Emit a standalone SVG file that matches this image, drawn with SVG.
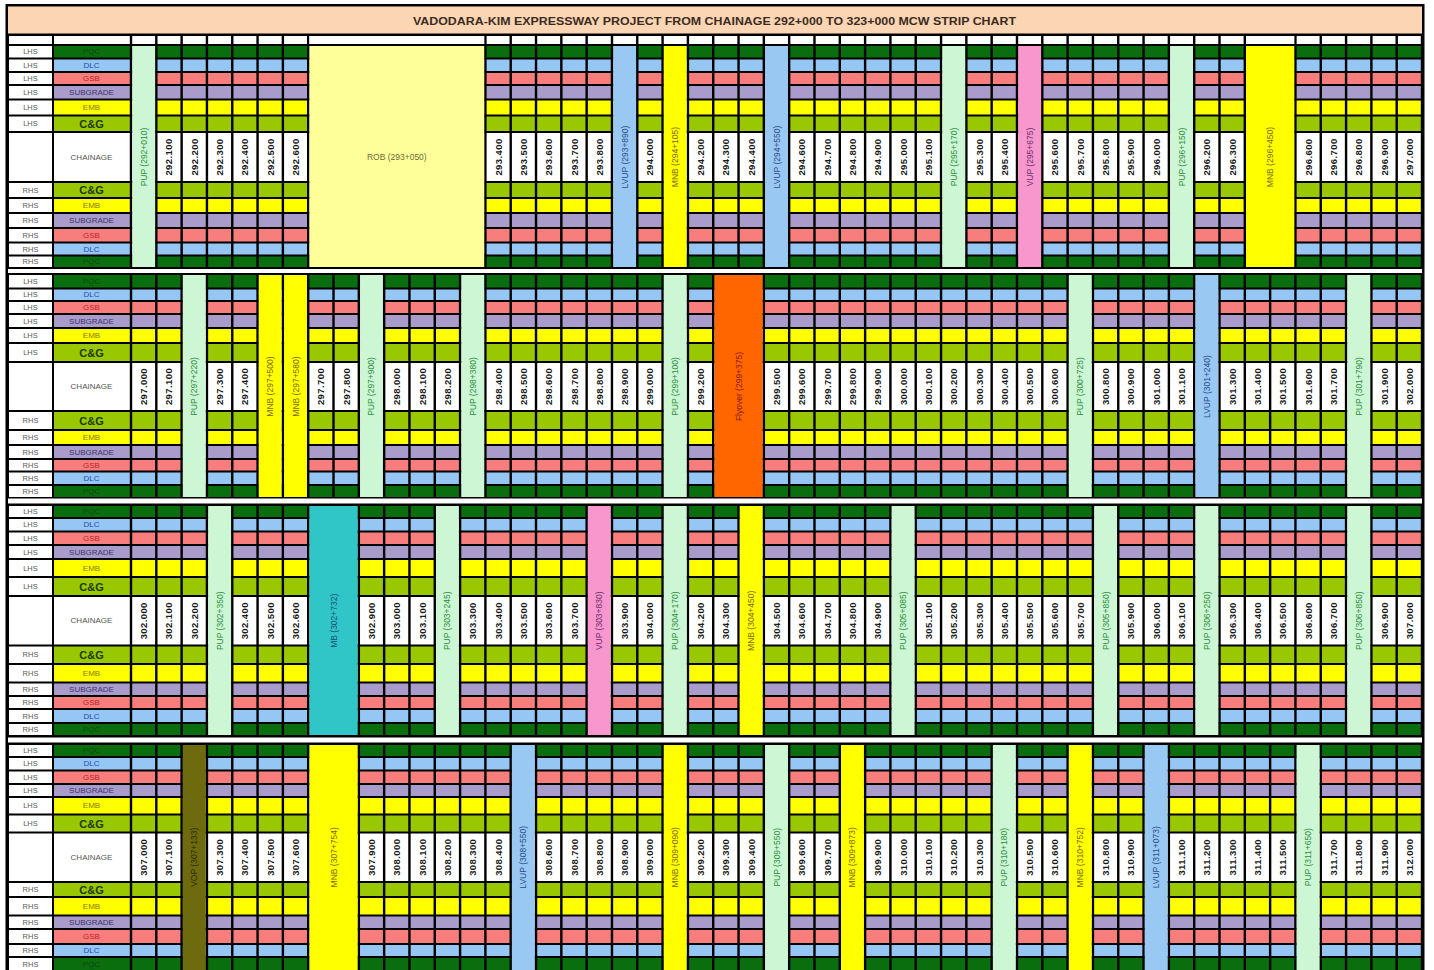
<svg xmlns="http://www.w3.org/2000/svg" width="1434" height="970" viewBox="0 0 1434 970">
<style>
.pqc{fill:#0a6e0e}.dlc{fill:#95c6f4}.gsb{fill:#f87e7e}.sub{fill:#a99cca}.emb{fill:#ffff00}.cg{fill:#99c800}.wh{fill:#ffffff}
.pup{fill:#ccf6d4}.lvup{fill:#99c8f2}.vup{fill:#f797cd}.mnb{fill:#ffff00}.rob{fill:#ffff99}.fly{fill:#ff6600}.mb{fill:#30c6c8}.vop{fill:#6e6a0e}
text{font-family:"Liberation Sans",Arial,sans-serif;text-anchor:middle;dominant-baseline:central}
.lh{font-size:7.5px;fill:#5a5a5a}
.ln{font-size:8px}
.t-pqc{fill:#0d4a0d}.t-dlc{fill:#1f4fb0}.t-gsb{fill:#c0202a}.t-sub{fill:#3b3470}.t-emb{fill:#8b7a00}.t-cg{fill:#1d3a00;font-size:11px;font-weight:bold}.t-ch{fill:#555}
.ch{font-size:9.5px;font-weight:bold;letter-spacing:0.4px;fill:#1a1a1a}
.sl{font-size:8.5px}
.s-pup{fill:#2f8f3f}.s-lvup{fill:#2b4d8c}.s-vup{fill:#6b2f6b}.s-mnb{fill:#7a6a00}.s-rob{fill:#6b6b3a}.s-fly{fill:#8a1a00}.s-mb{fill:#1b4f7a}.s-vop{fill:#2b2b00}
.title{font-size:11px;font-weight:bold;fill:#3b2c1f}
</style>
<rect x="0" y="0" width="1434" height="970" fill="#ffffff"/>
<rect id="frame" x="5.5" y="4" width="1419" height="967" fill="#000"/>
<g id="title">
<rect x="8" y="6.5" width="1414" height="27" fill="#fcd5b4"/>
<text class="title" x="714.5" y="20.5" textLength="603" lengthAdjust="spacingAndGlyphs">VADODARA-KIM EXPRESSWAY PROJECT FROM CHAINAGE 292+000 TO 323+000 MCW STRIP CHART</text>
</g>
<g id="header-row">
<rect class="wh" x="9" y="36" width="43" height="8"/><rect class="wh" x="54" y="36" width="1368" height="8"/>
</g>
<g id="band1-rows">
<rect class="wh" x="9" y="46" width="43" height="11.5"/><rect class="pqc" x="54" y="46" width="1368" height="11.5"/>
<rect class="wh" x="9" y="59.5" width="43" height="11.5"/><rect class="dlc" x="54" y="59.5" width="1368" height="11.5"/>
<rect class="wh" x="9" y="73" width="43" height="11"/><rect class="gsb" x="54" y="73" width="1368" height="11"/>
<rect class="wh" x="9" y="86" width="43" height="12.5"/><rect class="sub" x="54" y="86" width="1368" height="12.5"/>
<rect class="wh" x="9" y="100.5" width="43" height="14"/><rect class="emb" x="54" y="100.5" width="1368" height="14"/>
<rect class="wh" x="9" y="116.5" width="43" height="14.5"/><rect class="cg" x="54" y="116.5" width="1368" height="14.5"/>
<rect class="wh" x="9" y="133" width="43" height="48"/><rect class="wh" x="54" y="133" width="1368" height="48"/>
<rect class="wh" x="9" y="183" width="43" height="14"/><rect class="cg" x="54" y="183" width="1368" height="14"/>
<rect class="wh" x="9" y="199" width="43" height="13"/><rect class="emb" x="54" y="199" width="1368" height="13"/>
<rect class="wh" x="9" y="214" width="43" height="13"/><rect class="sub" x="54" y="214" width="1368" height="13"/>
<rect class="wh" x="9" y="229" width="43" height="12.5"/><rect class="gsb" x="54" y="229" width="1368" height="12.5"/>
<rect class="wh" x="9" y="243.5" width="43" height="11"/><rect class="dlc" x="54" y="243.5" width="1368" height="11"/>
<rect class="wh" x="9" y="256.5" width="43" height="10.5"/><rect class="pqc" x="54" y="256.5" width="1368" height="10.5"/>
<text class="lh" x="30.5" y="51.75">LHS</text><text class="ln t-pqc" x="91.5" y="51.75">PQC</text>
<text class="lh" x="30.5" y="65.25">LHS</text><text class="ln t-dlc" x="91.5" y="65.25">DLC</text>
<text class="lh" x="30.5" y="78.5">LHS</text><text class="ln t-gsb" x="91.5" y="78.5">GSB</text>
<text class="lh" x="30.5" y="92.25">LHS</text><text class="ln t-sub" x="91.5" y="92.25">SUBGRADE</text>
<text class="lh" x="30.5" y="107.5">LHS</text><text class="ln t-emb" x="91.5" y="107.5">EMB</text>
<text class="lh" x="30.5" y="123.75">LHS</text><text class="t-cg" x="91.5" y="123.75">C&amp;G</text>
<text class="ln t-ch" x="91.5" y="157">CHAINAGE</text>
<text class="lh" x="30.5" y="190">RHS</text><text class="t-cg" x="91.5" y="190">C&amp;G</text>
<text class="lh" x="30.5" y="205.5">RHS</text><text class="ln t-emb" x="91.5" y="205.5">EMB</text>
<text class="lh" x="30.5" y="220.5">RHS</text><text class="ln t-sub" x="91.5" y="220.5">SUBGRADE</text>
<text class="lh" x="30.5" y="235.25">RHS</text><text class="ln t-gsb" x="91.5" y="235.25">GSB</text>
<text class="lh" x="30.5" y="249">RHS</text><text class="ln t-dlc" x="91.5" y="249">DLC</text>
<text class="lh" x="30.5" y="261.75">RHS</text><text class="ln t-pqc" x="91.5" y="261.75">PQC</text>
</g>
<g id="band2-rows">
<rect class="wh" x="9" y="275" width="43" height="12.5"/><rect class="pqc" x="54" y="275" width="1368" height="12.5"/>
<rect class="wh" x="9" y="289.5" width="43" height="10.5"/><rect class="dlc" x="54" y="289.5" width="1368" height="10.5"/>
<rect class="wh" x="9" y="302" width="43" height="11"/><rect class="gsb" x="54" y="302" width="1368" height="11"/>
<rect class="wh" x="9" y="315" width="43" height="12"/><rect class="sub" x="54" y="315" width="1368" height="12"/>
<rect class="wh" x="9" y="329" width="43" height="13"/><rect class="emb" x="54" y="329" width="1368" height="13"/>
<rect class="wh" x="9" y="344" width="43" height="17"/><rect class="cg" x="54" y="344" width="1368" height="17"/>
<rect class="wh" x="9" y="363" width="43" height="47"/><rect class="wh" x="54" y="363" width="1368" height="47"/>
<rect class="wh" x="9" y="412" width="43" height="17"/><rect class="cg" x="54" y="412" width="1368" height="17"/>
<rect class="wh" x="9" y="431" width="43" height="13"/><rect class="emb" x="54" y="431" width="1368" height="13"/>
<rect class="wh" x="9" y="446" width="43" height="12"/><rect class="sub" x="54" y="446" width="1368" height="12"/>
<rect class="wh" x="9" y="460" width="43" height="10.5"/><rect class="gsb" x="54" y="460" width="1368" height="10.5"/>
<rect class="wh" x="9" y="472.5" width="43" height="11.5"/><rect class="dlc" x="54" y="472.5" width="1368" height="11.5"/>
<rect class="wh" x="9" y="486" width="43" height="11"/><rect class="pqc" x="54" y="486" width="1368" height="11"/>
<text class="lh" x="30.5" y="281.25">LHS</text><text class="ln t-pqc" x="91.5" y="281.25">PQC</text>
<text class="lh" x="30.5" y="294.75">LHS</text><text class="ln t-dlc" x="91.5" y="294.75">DLC</text>
<text class="lh" x="30.5" y="307.5">LHS</text><text class="ln t-gsb" x="91.5" y="307.5">GSB</text>
<text class="lh" x="30.5" y="321">LHS</text><text class="ln t-sub" x="91.5" y="321">SUBGRADE</text>
<text class="lh" x="30.5" y="335.5">LHS</text><text class="ln t-emb" x="91.5" y="335.5">EMB</text>
<text class="lh" x="30.5" y="352.5">LHS</text><text class="t-cg" x="91.5" y="352.5">C&amp;G</text>
<text class="ln t-ch" x="91.5" y="386.5">CHAINAGE</text>
<text class="lh" x="30.5" y="420.5">RHS</text><text class="t-cg" x="91.5" y="420.5">C&amp;G</text>
<text class="lh" x="30.5" y="437.5">RHS</text><text class="ln t-emb" x="91.5" y="437.5">EMB</text>
<text class="lh" x="30.5" y="452">RHS</text><text class="ln t-sub" x="91.5" y="452">SUBGRADE</text>
<text class="lh" x="30.5" y="465.25">RHS</text><text class="ln t-gsb" x="91.5" y="465.25">GSB</text>
<text class="lh" x="30.5" y="478.25">RHS</text><text class="ln t-dlc" x="91.5" y="478.25">DLC</text>
<text class="lh" x="30.5" y="491.5">RHS</text><text class="ln t-pqc" x="91.5" y="491.5">PQC</text>
</g>
<g id="band3-rows">
<rect class="wh" x="9" y="506" width="43" height="11"/><rect class="pqc" x="54" y="506" width="1368" height="11"/>
<rect class="wh" x="9" y="519" width="43" height="11.5"/><rect class="dlc" x="54" y="519" width="1368" height="11.5"/>
<rect class="wh" x="9" y="532.5" width="43" height="11.5"/><rect class="gsb" x="54" y="532.5" width="1368" height="11.5"/>
<rect class="wh" x="9" y="546" width="43" height="12"/><rect class="sub" x="54" y="546" width="1368" height="12"/>
<rect class="wh" x="9" y="560" width="43" height="16"/><rect class="emb" x="54" y="560" width="1368" height="16"/>
<rect class="wh" x="9" y="578" width="43" height="17"/><rect class="cg" x="54" y="578" width="1368" height="17"/>
<rect class="wh" x="9" y="597" width="43" height="47.5"/><rect class="wh" x="54" y="597" width="1368" height="47.5"/>
<rect class="wh" x="9" y="646.5" width="43" height="16.5"/><rect class="cg" x="54" y="646.5" width="1368" height="16.5"/>
<rect class="wh" x="9" y="665" width="43" height="16.5"/><rect class="emb" x="54" y="665" width="1368" height="16.5"/>
<rect class="wh" x="9" y="683.5" width="43" height="11.5"/><rect class="sub" x="54" y="683.5" width="1368" height="11.5"/>
<rect class="wh" x="9" y="697" width="43" height="11"/><rect class="gsb" x="54" y="697" width="1368" height="11"/>
<rect class="wh" x="9" y="710" width="43" height="12"/><rect class="dlc" x="54" y="710" width="1368" height="12"/>
<rect class="wh" x="9" y="724" width="43" height="11"/><rect class="pqc" x="54" y="724" width="1368" height="11"/>
<text class="lh" x="30.5" y="511.5">LHS</text><text class="ln t-pqc" x="91.5" y="511.5">PQC</text>
<text class="lh" x="30.5" y="524.75">LHS</text><text class="ln t-dlc" x="91.5" y="524.75">DLC</text>
<text class="lh" x="30.5" y="538.25">LHS</text><text class="ln t-gsb" x="91.5" y="538.25">GSB</text>
<text class="lh" x="30.5" y="552">LHS</text><text class="ln t-sub" x="91.5" y="552">SUBGRADE</text>
<text class="lh" x="30.5" y="568">LHS</text><text class="ln t-emb" x="91.5" y="568">EMB</text>
<text class="lh" x="30.5" y="586.5">LHS</text><text class="t-cg" x="91.5" y="586.5">C&amp;G</text>
<text class="ln t-ch" x="91.5" y="620.75">CHAINAGE</text>
<text class="lh" x="30.5" y="654.75">RHS</text><text class="t-cg" x="91.5" y="654.75">C&amp;G</text>
<text class="lh" x="30.5" y="673.25">RHS</text><text class="ln t-emb" x="91.5" y="673.25">EMB</text>
<text class="lh" x="30.5" y="689.25">RHS</text><text class="ln t-sub" x="91.5" y="689.25">SUBGRADE</text>
<text class="lh" x="30.5" y="702.5">RHS</text><text class="ln t-gsb" x="91.5" y="702.5">GSB</text>
<text class="lh" x="30.5" y="716">RHS</text><text class="ln t-dlc" x="91.5" y="716">DLC</text>
<text class="lh" x="30.5" y="729.5">RHS</text><text class="ln t-pqc" x="91.5" y="729.5">PQC</text>
</g>
<g id="band4-rows">
<rect class="wh" x="9" y="745" width="43" height="11"/><rect class="pqc" x="54" y="745" width="1368" height="11"/>
<rect class="wh" x="9" y="758" width="43" height="11.5"/><rect class="dlc" x="54" y="758" width="1368" height="11.5"/>
<rect class="wh" x="9" y="771.5" width="43" height="11.5"/><rect class="gsb" x="54" y="771.5" width="1368" height="11.5"/>
<rect class="wh" x="9" y="785" width="43" height="11"/><rect class="sub" x="54" y="785" width="1368" height="11"/>
<rect class="wh" x="9" y="798" width="43" height="15.5"/><rect class="emb" x="54" y="798" width="1368" height="15.5"/>
<rect class="wh" x="9" y="815.5" width="43" height="16"/><rect class="cg" x="54" y="815.5" width="1368" height="16"/>
<rect class="wh" x="9" y="833.5" width="43" height="47.5"/><rect class="wh" x="54" y="833.5" width="1368" height="47.5"/>
<rect class="wh" x="9" y="883" width="43" height="13"/><rect class="cg" x="54" y="883" width="1368" height="13"/>
<rect class="wh" x="9" y="898" width="43" height="16.5"/><rect class="emb" x="54" y="898" width="1368" height="16.5"/>
<rect class="wh" x="9" y="916.5" width="43" height="11.5"/><rect class="sub" x="54" y="916.5" width="1368" height="11.5"/>
<rect class="wh" x="9" y="930" width="43" height="13"/><rect class="gsb" x="54" y="930" width="1368" height="13"/>
<rect class="wh" x="9" y="945" width="43" height="11"/><rect class="dlc" x="54" y="945" width="1368" height="11"/>
<rect class="wh" x="9" y="958" width="43" height="12"/><rect class="pqc" x="54" y="958" width="1368" height="12"/>
<text class="lh" x="30.5" y="750.5">LHS</text><text class="ln t-pqc" x="91.5" y="750.5">PQC</text>
<text class="lh" x="30.5" y="763.75">LHS</text><text class="ln t-dlc" x="91.5" y="763.75">DLC</text>
<text class="lh" x="30.5" y="777.25">LHS</text><text class="ln t-gsb" x="91.5" y="777.25">GSB</text>
<text class="lh" x="30.5" y="790.5">LHS</text><text class="ln t-sub" x="91.5" y="790.5">SUBGRADE</text>
<text class="lh" x="30.5" y="805.75">LHS</text><text class="ln t-emb" x="91.5" y="805.75">EMB</text>
<text class="lh" x="30.5" y="823.5">LHS</text><text class="t-cg" x="91.5" y="823.5">C&amp;G</text>
<text class="ln t-ch" x="91.5" y="857.25">CHAINAGE</text>
<text class="lh" x="30.5" y="889.5">RHS</text><text class="t-cg" x="91.5" y="889.5">C&amp;G</text>
<text class="lh" x="30.5" y="906.25">RHS</text><text class="ln t-emb" x="91.5" y="906.25">EMB</text>
<text class="lh" x="30.5" y="922.25">RHS</text><text class="ln t-sub" x="91.5" y="922.25">SUBGRADE</text>
<text class="lh" x="30.5" y="936.5">RHS</text><text class="ln t-gsb" x="91.5" y="936.5">GSB</text>
<text class="lh" x="30.5" y="950.5">RHS</text><text class="ln t-dlc" x="91.5" y="950.5">DLC</text>
<text class="lh" x="30.5" y="964">RHS</text><text class="ln t-pqc" x="91.5" y="964">PQC</text>
</g>
<g id="grid-lines">
<path stroke="#000" stroke-width="2.4" fill="none" d="M131 35V970M156.31 35V970M181.63 35V970M206.94 35V970M232.26 35V970M257.57 35V970M282.88 35V970M308.2 35V970M333.51 35V970M358.83 35V970M384.14 35V970M409.45 35V970M434.77 35V970M460.08 35V970M485.4 35V970M510.71 35V970M536.02 35V970M561.34 35V970M586.65 35V970M611.97 35V970M637.28 35V970M662.59 35V970M687.91 35V970M713.22 35V970M738.54 35V970M763.85 35V970M789.16 35V970M814.48 35V970M839.79 35V970M865.11 35V970M890.42 35V970M915.73 35V970M941.05 35V970M966.36 35V970M991.68 35V970M1016.99 35V970M1042.3 35V970M1067.62 35V970M1092.93 35V970M1118.25 35V970M1143.56 35V970M1168.87 35V970M1194.19 35V970M1219.5 35V970M1244.82 35V970M1270.13 35V970M1295.44 35V970M1320.76 35V970M1346.07 35V970M1371.39 35V970M1396.7 35V970M1422 35V970"/>
<rect class="wh" x="309.4" y="36" width="174.8" height="8"/>
<rect class="wh" x="1246" y="36" width="48.2" height="8"/>
<rect class="wh" x="8" y="269" width="1414" height="4"/>
<rect class="wh" x="8" y="498.5" width="1414" height="5"/>
<rect class="wh" x="8" y="737.5" width="1414" height="5"/>
</g>
<g id="band1-structures">
<g id="pup-292-010"><rect class="pup" x="132.2" y="46" width="22.91" height="221"/><text class="sl s-pup" x="143.66" y="157" transform="rotate(-90 143.66 157)">PUP (292+010)</text></g>
<g id="rob-293-050"><rect class="rob" x="309.4" y="46" width="174.8" height="221"/><text class="sl s-rob" x="396.8" y="157">ROB (293+050)</text></g>
<g id="lvup-293-890"><rect class="lvup" x="613.17" y="46" width="22.91" height="221"/><text class="sl s-lvup" x="624.63" y="157" transform="rotate(-90 624.63 157)">LVUP (293+890)</text></g>
<g id="mnb-294-105"><rect class="mnb" x="663.79" y="46" width="22.91" height="221"/><text class="sl s-mnb" x="675.25" y="157" transform="rotate(-90 675.25 157)">MNB (294+105)</text></g>
<g id="lvup-294-550"><rect class="lvup" x="765.05" y="46" width="22.91" height="221"/><text class="sl s-lvup" x="776.51" y="157" transform="rotate(-90 776.51 157)">LVUP (294+550)</text></g>
<g id="pup-295-170"><rect class="pup" x="942.25" y="46" width="22.91" height="221"/><text class="sl s-pup" x="953.71" y="157" transform="rotate(-90 953.71 157)">PUP (295+170)</text></g>
<g id="vup-295-675"><rect class="vup" x="1018.19" y="46" width="22.91" height="221"/><text class="sl s-vup" x="1029.65" y="157" transform="rotate(-90 1029.65 157)">VUP (295+675)</text></g>
<g id="pup-296-150"><rect class="pup" x="1170.07" y="46" width="22.91" height="221"/><text class="sl s-pup" x="1181.53" y="157" transform="rotate(-90 1181.53 157)">PUP (296+150)</text></g>
<g id="mnb-296-450"><rect class="mnb" x="1246.02" y="46" width="48.23" height="221"/><text class="sl s-mnb" x="1270.13" y="157" transform="rotate(-90 1270.13 157)">MNB (296+450)</text></g>
</g>
<g id="band2-structures">
<g id="pup-297-220"><rect class="pup" x="182.83" y="275" width="22.91" height="222"/><text class="sl s-pup" x="194.29" y="386.5" transform="rotate(-90 194.29 386.5)">PUP (297+220)</text></g>
<g id="mnb-297-500"><rect class="mnb" x="258.77" y="275" width="22.91" height="222"/><text class="sl s-mnb" x="270.23" y="386.5" transform="rotate(-90 270.23 386.5)">MNB (297+500)</text></g>
<g id="mnb-297-580"><rect class="mnb" x="284.08" y="275" width="22.91" height="222"/><text class="sl s-mnb" x="295.54" y="386.5" transform="rotate(-90 295.54 386.5)">MNB (297+580)</text></g>
<g id="pup-297-900"><rect class="pup" x="360.03" y="275" width="22.91" height="222"/><text class="sl s-pup" x="371.49" y="386.5" transform="rotate(-90 371.49 386.5)">PUP (297+900)</text></g>
<g id="pup-298-380"><rect class="pup" x="461.28" y="275" width="22.91" height="222"/><text class="sl s-pup" x="472.74" y="386.5" transform="rotate(-90 472.74 386.5)">PUP (298+380)</text></g>
<g id="pup-299-100"><rect class="pup" x="663.79" y="275" width="22.91" height="222"/><text class="sl s-pup" x="675.25" y="386.5" transform="rotate(-90 675.25 386.5)">PUP (299+100)</text></g>
<g id="flyover-299-375"><rect class="fly" x="714.42" y="275" width="48.23" height="222"/><text class="sl s-fly" x="738.54" y="386.5" transform="rotate(-90 738.54 386.5)">Flyover (299+375)</text></g>
<g id="pup-300-725"><rect class="pup" x="1068.82" y="275" width="22.91" height="222"/><text class="sl s-pup" x="1080.28" y="386.5" transform="rotate(-90 1080.28 386.5)">PUP (300+725)</text></g>
<g id="lvup-301-240"><rect class="lvup" x="1195.39" y="275" width="22.91" height="222"/><text class="sl s-lvup" x="1206.85" y="386.5" transform="rotate(-90 1206.85 386.5)">LVUP (301+240)</text></g>
<g id="pup-301-790"><rect class="pup" x="1347.27" y="275" width="22.91" height="222"/><text class="sl s-pup" x="1358.73" y="386.5" transform="rotate(-90 1358.73 386.5)">PUP (301+790)</text></g>
</g>
<g id="band3-structures">
<g id="pup-302-350"><rect class="pup" x="208.14" y="506" width="22.91" height="229"/><text class="sl s-pup" x="219.6" y="620.75" transform="rotate(-90 219.6 620.75)">PUP (302+350)</text></g>
<g id="mb-302-732"><rect class="mb" x="309.4" y="506" width="48.23" height="229"/><text class="sl s-mb" x="333.51" y="620.75" transform="rotate(-90 333.51 620.75)">MB (302+732)</text></g>
<g id="pup-303-245"><rect class="pup" x="435.97" y="506" width="22.91" height="229"/><text class="sl s-pup" x="447.43" y="620.75" transform="rotate(-90 447.43 620.75)">PUP (303+245)</text></g>
<g id="vup-303-830"><rect class="vup" x="587.85" y="506" width="22.91" height="229"/><text class="sl s-vup" x="599.31" y="620.75" transform="rotate(-90 599.31 620.75)">VUP (303+830)</text></g>
<g id="pup-304-170"><rect class="pup" x="663.79" y="506" width="22.91" height="229"/><text class="sl s-pup" x="675.25" y="620.75" transform="rotate(-90 675.25 620.75)">PUP (304+170)</text></g>
<g id="mnb-304-450"><rect class="mnb" x="739.74" y="506" width="22.91" height="229"/><text class="sl s-mnb" x="751.2" y="620.75" transform="rotate(-90 751.2 620.75)">MNB (304+450)</text></g>
<g id="pup-305-085"><rect class="pup" x="891.62" y="506" width="22.91" height="229"/><text class="sl s-pup" x="903.08" y="620.75" transform="rotate(-90 903.08 620.75)">PUP (305+085)</text></g>
<g id="pup-305-850"><rect class="pup" x="1094.13" y="506" width="22.91" height="229"/><text class="sl s-pup" x="1105.59" y="620.75" transform="rotate(-90 1105.59 620.75)">PUP (305+850)</text></g>
<g id="pup-306-250"><rect class="pup" x="1195.39" y="506" width="22.91" height="229"/><text class="sl s-pup" x="1206.85" y="620.75" transform="rotate(-90 1206.85 620.75)">PUP (306+250)</text></g>
<g id="pup-306-850"><rect class="pup" x="1347.27" y="506" width="22.91" height="229"/><text class="sl s-pup" x="1358.73" y="620.75" transform="rotate(-90 1358.73 620.75)">PUP (306+850)</text></g>
</g>
<g id="band4-structures">
<g id="vop-307-133"><rect class="vop" x="182.83" y="745" width="22.91" height="225"/><text class="sl s-vop" x="194.29" y="857.25" transform="rotate(-90 194.29 857.25)">VOP (307+133)</text></g>
<g id="mnb-307-754"><rect class="mnb" x="309.4" y="745" width="48.23" height="225"/><text class="sl s-mnb" x="333.51" y="857.25" transform="rotate(-90 333.51 857.25)">MNB (307+754)</text></g>
<g id="lvup-308-550"><rect class="lvup" x="511.91" y="745" width="22.91" height="225"/><text class="sl s-lvup" x="523.37" y="857.25" transform="rotate(-90 523.37 857.25)">LVUP (308+550)</text></g>
<g id="mnb-309-090"><rect class="mnb" x="663.79" y="745" width="22.91" height="225"/><text class="sl s-mnb" x="675.25" y="857.25" transform="rotate(-90 675.25 857.25)">MNB (309+090)</text></g>
<g id="pup-309-550"><rect class="pup" x="765.05" y="745" width="22.91" height="225"/><text class="sl s-pup" x="776.51" y="857.25" transform="rotate(-90 776.51 857.25)">PUP (309+550)</text></g>
<g id="mnb-309-873"><rect class="mnb" x="840.99" y="745" width="22.91" height="225"/><text class="sl s-mnb" x="852.45" y="857.25" transform="rotate(-90 852.45 857.25)">MNB (309+873)</text></g>
<g id="pup-310-180"><rect class="pup" x="992.88" y="745" width="22.91" height="225"/><text class="sl s-pup" x="1004.34" y="857.25" transform="rotate(-90 1004.34 857.25)">PUP (310+180)</text></g>
<g id="mnb-310-752"><rect class="mnb" x="1068.82" y="745" width="22.91" height="225"/><text class="sl s-mnb" x="1080.28" y="857.25" transform="rotate(-90 1080.28 857.25)">MNB (310+752)</text></g>
<g id="lvup-311-073"><rect class="lvup" x="1144.76" y="745" width="22.91" height="225"/><text class="sl s-lvup" x="1156.22" y="857.25" transform="rotate(-90 1156.22 857.25)">LVUP (311+073)</text></g>
<g id="pup-311-650"><rect class="pup" x="1296.64" y="745" width="22.91" height="225"/><text class="sl s-pup" x="1308.1" y="857.25" transform="rotate(-90 1308.1 857.25)">PUP (311+650)</text></g>
</g>
<g id="band1-chainage">
<text class="ch" x="168.97" y="157" transform="rotate(-90 168.97 157)">292.100</text>
<text class="ch" x="194.29" y="157" transform="rotate(-90 194.29 157)">292.200</text>
<text class="ch" x="219.6" y="157" transform="rotate(-90 219.6 157)">292.300</text>
<text class="ch" x="244.92" y="157" transform="rotate(-90 244.92 157)">292.400</text>
<text class="ch" x="270.23" y="157" transform="rotate(-90 270.23 157)">292.500</text>
<text class="ch" x="295.54" y="157" transform="rotate(-90 295.54 157)">292.600</text>
<text class="ch" x="498.06" y="157" transform="rotate(-90 498.06 157)">293.400</text>
<text class="ch" x="523.37" y="157" transform="rotate(-90 523.37 157)">293.500</text>
<text class="ch" x="548.68" y="157" transform="rotate(-90 548.68 157)">293.600</text>
<text class="ch" x="574" y="157" transform="rotate(-90 574 157)">293.700</text>
<text class="ch" x="599.31" y="157" transform="rotate(-90 599.31 157)">293.800</text>
<text class="ch" x="649.94" y="157" transform="rotate(-90 649.94 157)">294.000</text>
<text class="ch" x="700.57" y="157" transform="rotate(-90 700.57 157)">294.200</text>
<text class="ch" x="725.88" y="157" transform="rotate(-90 725.88 157)">294.300</text>
<text class="ch" x="751.2" y="157" transform="rotate(-90 751.2 157)">294.400</text>
<text class="ch" x="801.82" y="157" transform="rotate(-90 801.82 157)">294.600</text>
<text class="ch" x="827.14" y="157" transform="rotate(-90 827.14 157)">294.700</text>
<text class="ch" x="852.45" y="157" transform="rotate(-90 852.45 157)">294.800</text>
<text class="ch" x="877.77" y="157" transform="rotate(-90 877.77 157)">294.900</text>
<text class="ch" x="903.08" y="157" transform="rotate(-90 903.08 157)">295.000</text>
<text class="ch" x="928.39" y="157" transform="rotate(-90 928.39 157)">295.100</text>
<text class="ch" x="979.02" y="157" transform="rotate(-90 979.02 157)">295.300</text>
<text class="ch" x="1004.34" y="157" transform="rotate(-90 1004.34 157)">295.400</text>
<text class="ch" x="1054.96" y="157" transform="rotate(-90 1054.96 157)">295.600</text>
<text class="ch" x="1080.28" y="157" transform="rotate(-90 1080.28 157)">295.700</text>
<text class="ch" x="1105.59" y="157" transform="rotate(-90 1105.59 157)">295.800</text>
<text class="ch" x="1130.91" y="157" transform="rotate(-90 1130.91 157)">295.900</text>
<text class="ch" x="1156.22" y="157" transform="rotate(-90 1156.22 157)">296.000</text>
<text class="ch" x="1206.85" y="157" transform="rotate(-90 1206.85 157)">296.200</text>
<text class="ch" x="1232.16" y="157" transform="rotate(-90 1232.16 157)">296.300</text>
<text class="ch" x="1308.1" y="157" transform="rotate(-90 1308.1 157)">296.600</text>
<text class="ch" x="1333.42" y="157" transform="rotate(-90 1333.42 157)">296.700</text>
<text class="ch" x="1358.73" y="157" transform="rotate(-90 1358.73 157)">296.800</text>
<text class="ch" x="1384.05" y="157" transform="rotate(-90 1384.05 157)">296.900</text>
<text class="ch" x="1409.36" y="157" transform="rotate(-90 1409.36 157)">297.000</text>
</g>
<g id="band2-chainage">
<text class="ch" x="143.66" y="386.5" transform="rotate(-90 143.66 386.5)">297.000</text>
<text class="ch" x="168.97" y="386.5" transform="rotate(-90 168.97 386.5)">297.100</text>
<text class="ch" x="219.6" y="386.5" transform="rotate(-90 219.6 386.5)">297.300</text>
<text class="ch" x="244.92" y="386.5" transform="rotate(-90 244.92 386.5)">297.400</text>
<text class="ch" x="320.86" y="386.5" transform="rotate(-90 320.86 386.5)">297.700</text>
<text class="ch" x="346.17" y="386.5" transform="rotate(-90 346.17 386.5)">297.800</text>
<text class="ch" x="396.8" y="386.5" transform="rotate(-90 396.8 386.5)">298.000</text>
<text class="ch" x="422.11" y="386.5" transform="rotate(-90 422.11 386.5)">298.100</text>
<text class="ch" x="447.43" y="386.5" transform="rotate(-90 447.43 386.5)">298.200</text>
<text class="ch" x="498.06" y="386.5" transform="rotate(-90 498.06 386.5)">298.400</text>
<text class="ch" x="523.37" y="386.5" transform="rotate(-90 523.37 386.5)">298.500</text>
<text class="ch" x="548.68" y="386.5" transform="rotate(-90 548.68 386.5)">298.600</text>
<text class="ch" x="574" y="386.5" transform="rotate(-90 574 386.5)">298.700</text>
<text class="ch" x="599.31" y="386.5" transform="rotate(-90 599.31 386.5)">298.800</text>
<text class="ch" x="624.63" y="386.5" transform="rotate(-90 624.63 386.5)">298.900</text>
<text class="ch" x="649.94" y="386.5" transform="rotate(-90 649.94 386.5)">299.000</text>
<text class="ch" x="700.57" y="386.5" transform="rotate(-90 700.57 386.5)">299.200</text>
<text class="ch" x="776.51" y="386.5" transform="rotate(-90 776.51 386.5)">299.500</text>
<text class="ch" x="801.82" y="386.5" transform="rotate(-90 801.82 386.5)">299.600</text>
<text class="ch" x="827.14" y="386.5" transform="rotate(-90 827.14 386.5)">299.700</text>
<text class="ch" x="852.45" y="386.5" transform="rotate(-90 852.45 386.5)">299.800</text>
<text class="ch" x="877.77" y="386.5" transform="rotate(-90 877.77 386.5)">299.900</text>
<text class="ch" x="903.08" y="386.5" transform="rotate(-90 903.08 386.5)">300.000</text>
<text class="ch" x="928.39" y="386.5" transform="rotate(-90 928.39 386.5)">300.100</text>
<text class="ch" x="953.71" y="386.5" transform="rotate(-90 953.71 386.5)">300.200</text>
<text class="ch" x="979.02" y="386.5" transform="rotate(-90 979.02 386.5)">300.300</text>
<text class="ch" x="1004.34" y="386.5" transform="rotate(-90 1004.34 386.5)">300.400</text>
<text class="ch" x="1029.65" y="386.5" transform="rotate(-90 1029.65 386.5)">300.500</text>
<text class="ch" x="1054.96" y="386.5" transform="rotate(-90 1054.96 386.5)">300.600</text>
<text class="ch" x="1105.59" y="386.5" transform="rotate(-90 1105.59 386.5)">300.800</text>
<text class="ch" x="1130.91" y="386.5" transform="rotate(-90 1130.91 386.5)">300.900</text>
<text class="ch" x="1156.22" y="386.5" transform="rotate(-90 1156.22 386.5)">301.000</text>
<text class="ch" x="1181.53" y="386.5" transform="rotate(-90 1181.53 386.5)">301.100</text>
<text class="ch" x="1232.16" y="386.5" transform="rotate(-90 1232.16 386.5)">301.300</text>
<text class="ch" x="1257.48" y="386.5" transform="rotate(-90 1257.48 386.5)">301.400</text>
<text class="ch" x="1282.79" y="386.5" transform="rotate(-90 1282.79 386.5)">301.500</text>
<text class="ch" x="1308.1" y="386.5" transform="rotate(-90 1308.1 386.5)">301.600</text>
<text class="ch" x="1333.42" y="386.5" transform="rotate(-90 1333.42 386.5)">301.700</text>
<text class="ch" x="1384.05" y="386.5" transform="rotate(-90 1384.05 386.5)">301.900</text>
<text class="ch" x="1409.36" y="386.5" transform="rotate(-90 1409.36 386.5)">302.000</text>
</g>
<g id="band3-chainage">
<text class="ch" x="143.66" y="620.75" transform="rotate(-90 143.66 620.75)">302.000</text>
<text class="ch" x="168.97" y="620.75" transform="rotate(-90 168.97 620.75)">302.100</text>
<text class="ch" x="194.29" y="620.75" transform="rotate(-90 194.29 620.75)">302.200</text>
<text class="ch" x="244.92" y="620.75" transform="rotate(-90 244.92 620.75)">302.400</text>
<text class="ch" x="270.23" y="620.75" transform="rotate(-90 270.23 620.75)">302.500</text>
<text class="ch" x="295.54" y="620.75" transform="rotate(-90 295.54 620.75)">302.600</text>
<text class="ch" x="371.49" y="620.75" transform="rotate(-90 371.49 620.75)">302.900</text>
<text class="ch" x="396.8" y="620.75" transform="rotate(-90 396.8 620.75)">303.000</text>
<text class="ch" x="422.11" y="620.75" transform="rotate(-90 422.11 620.75)">303.100</text>
<text class="ch" x="472.74" y="620.75" transform="rotate(-90 472.74 620.75)">303.300</text>
<text class="ch" x="498.06" y="620.75" transform="rotate(-90 498.06 620.75)">303.400</text>
<text class="ch" x="523.37" y="620.75" transform="rotate(-90 523.37 620.75)">303.500</text>
<text class="ch" x="548.68" y="620.75" transform="rotate(-90 548.68 620.75)">303.600</text>
<text class="ch" x="574" y="620.75" transform="rotate(-90 574 620.75)">303.700</text>
<text class="ch" x="624.63" y="620.75" transform="rotate(-90 624.63 620.75)">303.900</text>
<text class="ch" x="649.94" y="620.75" transform="rotate(-90 649.94 620.75)">304.000</text>
<text class="ch" x="700.57" y="620.75" transform="rotate(-90 700.57 620.75)">304.200</text>
<text class="ch" x="725.88" y="620.75" transform="rotate(-90 725.88 620.75)">304.300</text>
<text class="ch" x="776.51" y="620.75" transform="rotate(-90 776.51 620.75)">304.500</text>
<text class="ch" x="801.82" y="620.75" transform="rotate(-90 801.82 620.75)">304.600</text>
<text class="ch" x="827.14" y="620.75" transform="rotate(-90 827.14 620.75)">304.700</text>
<text class="ch" x="852.45" y="620.75" transform="rotate(-90 852.45 620.75)">304.800</text>
<text class="ch" x="877.77" y="620.75" transform="rotate(-90 877.77 620.75)">304.900</text>
<text class="ch" x="928.39" y="620.75" transform="rotate(-90 928.39 620.75)">305.100</text>
<text class="ch" x="953.71" y="620.75" transform="rotate(-90 953.71 620.75)">305.200</text>
<text class="ch" x="979.02" y="620.75" transform="rotate(-90 979.02 620.75)">305.300</text>
<text class="ch" x="1004.34" y="620.75" transform="rotate(-90 1004.34 620.75)">305.400</text>
<text class="ch" x="1029.65" y="620.75" transform="rotate(-90 1029.65 620.75)">305.500</text>
<text class="ch" x="1054.96" y="620.75" transform="rotate(-90 1054.96 620.75)">305.600</text>
<text class="ch" x="1080.28" y="620.75" transform="rotate(-90 1080.28 620.75)">305.700</text>
<text class="ch" x="1130.91" y="620.75" transform="rotate(-90 1130.91 620.75)">305.900</text>
<text class="ch" x="1156.22" y="620.75" transform="rotate(-90 1156.22 620.75)">306.000</text>
<text class="ch" x="1181.53" y="620.75" transform="rotate(-90 1181.53 620.75)">306.100</text>
<text class="ch" x="1232.16" y="620.75" transform="rotate(-90 1232.16 620.75)">306.300</text>
<text class="ch" x="1257.48" y="620.75" transform="rotate(-90 1257.48 620.75)">306.400</text>
<text class="ch" x="1282.79" y="620.75" transform="rotate(-90 1282.79 620.75)">306.500</text>
<text class="ch" x="1308.1" y="620.75" transform="rotate(-90 1308.1 620.75)">306.600</text>
<text class="ch" x="1333.42" y="620.75" transform="rotate(-90 1333.42 620.75)">306.700</text>
<text class="ch" x="1384.05" y="620.75" transform="rotate(-90 1384.05 620.75)">306.900</text>
<text class="ch" x="1409.36" y="620.75" transform="rotate(-90 1409.36 620.75)">307.000</text>
</g>
<g id="band4-chainage">
<text class="ch" x="143.66" y="857.25" transform="rotate(-90 143.66 857.25)">307.000</text>
<text class="ch" x="168.97" y="857.25" transform="rotate(-90 168.97 857.25)">307.100</text>
<text class="ch" x="219.6" y="857.25" transform="rotate(-90 219.6 857.25)">307.300</text>
<text class="ch" x="244.92" y="857.25" transform="rotate(-90 244.92 857.25)">307.400</text>
<text class="ch" x="270.23" y="857.25" transform="rotate(-90 270.23 857.25)">307.500</text>
<text class="ch" x="295.54" y="857.25" transform="rotate(-90 295.54 857.25)">307.600</text>
<text class="ch" x="371.49" y="857.25" transform="rotate(-90 371.49 857.25)">307.900</text>
<text class="ch" x="396.8" y="857.25" transform="rotate(-90 396.8 857.25)">308.000</text>
<text class="ch" x="422.11" y="857.25" transform="rotate(-90 422.11 857.25)">308.100</text>
<text class="ch" x="447.43" y="857.25" transform="rotate(-90 447.43 857.25)">308.200</text>
<text class="ch" x="472.74" y="857.25" transform="rotate(-90 472.74 857.25)">308.300</text>
<text class="ch" x="498.06" y="857.25" transform="rotate(-90 498.06 857.25)">308.400</text>
<text class="ch" x="548.68" y="857.25" transform="rotate(-90 548.68 857.25)">308.600</text>
<text class="ch" x="574" y="857.25" transform="rotate(-90 574 857.25)">308.700</text>
<text class="ch" x="599.31" y="857.25" transform="rotate(-90 599.31 857.25)">308.800</text>
<text class="ch" x="624.63" y="857.25" transform="rotate(-90 624.63 857.25)">308.900</text>
<text class="ch" x="649.94" y="857.25" transform="rotate(-90 649.94 857.25)">309.000</text>
<text class="ch" x="700.57" y="857.25" transform="rotate(-90 700.57 857.25)">309.200</text>
<text class="ch" x="725.88" y="857.25" transform="rotate(-90 725.88 857.25)">309.300</text>
<text class="ch" x="751.2" y="857.25" transform="rotate(-90 751.2 857.25)">309.400</text>
<text class="ch" x="801.82" y="857.25" transform="rotate(-90 801.82 857.25)">309.600</text>
<text class="ch" x="827.14" y="857.25" transform="rotate(-90 827.14 857.25)">309.700</text>
<text class="ch" x="877.77" y="857.25" transform="rotate(-90 877.77 857.25)">309.900</text>
<text class="ch" x="903.08" y="857.25" transform="rotate(-90 903.08 857.25)">310.000</text>
<text class="ch" x="928.39" y="857.25" transform="rotate(-90 928.39 857.25)">310.100</text>
<text class="ch" x="953.71" y="857.25" transform="rotate(-90 953.71 857.25)">310.200</text>
<text class="ch" x="979.02" y="857.25" transform="rotate(-90 979.02 857.25)">310.300</text>
<text class="ch" x="1029.65" y="857.25" transform="rotate(-90 1029.65 857.25)">310.500</text>
<text class="ch" x="1054.96" y="857.25" transform="rotate(-90 1054.96 857.25)">310.600</text>
<text class="ch" x="1105.59" y="857.25" transform="rotate(-90 1105.59 857.25)">310.800</text>
<text class="ch" x="1130.91" y="857.25" transform="rotate(-90 1130.91 857.25)">310.900</text>
<text class="ch" x="1181.53" y="857.25" transform="rotate(-90 1181.53 857.25)">311.100</text>
<text class="ch" x="1206.85" y="857.25" transform="rotate(-90 1206.85 857.25)">311.200</text>
<text class="ch" x="1232.16" y="857.25" transform="rotate(-90 1232.16 857.25)">311.300</text>
<text class="ch" x="1257.48" y="857.25" transform="rotate(-90 1257.48 857.25)">311.400</text>
<text class="ch" x="1282.79" y="857.25" transform="rotate(-90 1282.79 857.25)">311.500</text>
<text class="ch" x="1333.42" y="857.25" transform="rotate(-90 1333.42 857.25)">311.700</text>
<text class="ch" x="1358.73" y="857.25" transform="rotate(-90 1358.73 857.25)">311.800</text>
<text class="ch" x="1384.05" y="857.25" transform="rotate(-90 1384.05 857.25)">311.900</text>
<text class="ch" x="1409.36" y="857.25" transform="rotate(-90 1409.36 857.25)">312.000</text>
</g>
</svg>
